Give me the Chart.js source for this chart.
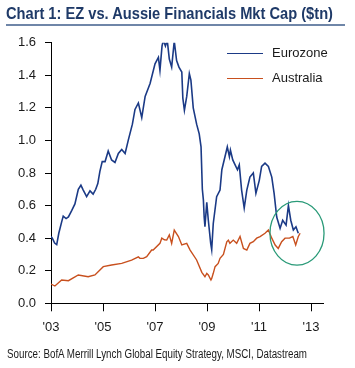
<!DOCTYPE html>
<html>
<head>
<meta charset="utf-8">
<script src="https://cdn.jsdelivr.net/npm/chart.js@4.4.0/dist/chart.umd.min.js"></script>
<style>
  html, body { margin: 0; padding: 0; background: #ffffff; }
  #wrap { position: relative; width: 355px; height: 368px; overflow: hidden; }
  #title { position: absolute; left: 6px; top: 4px; font-family: "Liberation Sans Narrow", "Liberation Sans", Arial, sans-serif; font-weight: bold; font-size: 16.5px; color: #1f3a68; white-space: nowrap; transform-origin: 0 0; }
  #rule { position: absolute; left: 6px; top: 24px; width: 339px; height: 2px; background: #6f86a8; }
  #source { position: absolute; left: 7px; top: 347px; font-family: "Liberation Sans Narrow", "Liberation Sans", Arial, sans-serif; font-size: 12px; color: #1a1a1a; white-space: nowrap; transform-origin: 0 0; }
  #chart { position: absolute; left: 0; top: 0; }
</style>
</head>
<body>
<div id="wrap">
  <canvas id="chart" width="355" height="368"></canvas>
  <div id="title">Chart 1: EZ vs. Aussie Financials Mkt Cap ($tn)</div>
  <div id="rule"></div>
  <div id="source">Source: BofA Merrill Lynch Global Equity Strategy, MSCI, Datastream</div>
</div>
<script>
const seriesNames = ["Eurozone", "Australia"];

const ezYears = [2003.00,2003.05,2003.14,2003.22,2003.30,2003.41,2003.47,2003.58,2003.67,2003.80,2003.92,
  2004.05,2004.15,2004.24,2004.37,2004.50,2004.62,2004.72,2004.80,2004.88,2004.97,
  2005.08,2005.20,2005.33,2005.46,2005.59,2005.72,2005.85,2005.97,
  2006.13,2006.23,2006.36,2006.49,2006.62,2006.81,
  2007.00,2007.13,2007.19,2007.27,2007.32,2007.40,2007.47,2007.55,2007.64,2007.74,2007.83,2007.92,
  2008.03,2008.07,2008.13,2008.22,2008.32,2008.38,2008.47,2008.60,2008.70,2008.77,2008.82,2008.86,2008.89,2008.92,2008.99,
  2009.05,2009.14,2009.18,2009.24,2009.37,2009.50,2009.57,2009.69,2009.78,2009.86,2009.90,2009.99,
  2010.08,2010.17,2010.24,2010.33,2010.43,2010.53,2010.65,2010.78,2010.88,
  2011.01,2011.10,2011.23,2011.36,2011.49,2011.58,2011.68,2011.81,2011.91,
  2012.04,2012.13,2012.22,2012.32,2012.42,2012.51];
const ezValues = [0.41,0.40,0.37,0.36,0.43,0.50,0.535,0.52,0.53,0.57,0.61,
  0.70,0.725,0.695,0.655,0.69,0.67,0.70,0.735,0.81,0.87,
  0.87,0.935,0.88,0.865,0.92,0.945,0.92,1.00,
  1.10,1.19,1.23,1.14,1.27,1.35,
  1.47,1.51,1.43,1.58,1.615,1.58,1.615,1.50,1.45,1.61,1.49,1.45,
  1.42,1.26,1.185,1.27,1.41,1.37,1.20,1.10,1.04,0.96,0.70,0.635,0.53,0.47,0.62,
  0.51,0.37,0.33,0.49,0.655,0.695,0.82,0.90,0.96,0.90,0.94,0.88,
  0.85,0.82,0.85,0.695,0.585,0.695,0.775,0.80,0.675,
  0.755,0.84,0.86,0.84,0.775,0.675,0.53,0.46,0.51,
  0.48,0.60,0.51,0.45,0.47,0.43];

const auYears = [2003.00,2003.15,2003.41,2003.67,2004.05,2004.43,2004.69,2005.01,2005.33,2005.72,
  2006.10,2006.36,2006.42,2006.55,2006.68,2006.87,2006.93,2007.19,2007.26,2007.36,2007.45,2007.55,2007.64,2007.74,2007.90,
  2008.03,2008.22,2008.35,2008.60,2008.80,2008.92,2008.99,2009.05,2009.15,2009.18,2009.24,2009.31,2009.43,2009.50,2009.63,2009.76,2009.82,2009.88,
  2010.01,2010.14,2010.27,2010.40,2010.53,2010.65,2010.78,2010.91,
  2011.04,2011.23,2011.36,2011.49,2011.62,2011.74,2011.87,
  2012.00,2012.17,2012.30,2012.41,2012.51,2012.58];
const auValues = [0.118,0.106,0.143,0.139,0.174,0.163,0.174,0.225,0.235,0.245,
  0.265,0.285,0.276,0.276,0.286,0.327,0.327,0.368,0.40,0.39,0.388,0.42,0.368,0.45,0.41,
  0.358,0.368,0.327,0.266,0.19,0.163,0.184,0.174,0.143,0.153,0.184,0.225,0.245,0.276,0.30,0.378,0.388,0.368,
  0.388,0.368,0.41,0.337,0.327,0.368,0.378,0.40,
  0.41,0.43,0.45,0.40,0.358,0.337,0.378,
  0.40,0.40,0.41,0.358,0.41,0.43];

const xTickYears = [2003, 2005, 2007, 2009, 2011, 2013];
const xTickLabels = ["'03", "'05", "'07", "'09", "'11", "'13"];
const seriesColors = ["#1b3a86", "#c8501e"];

const toPts = (xs, ys) => xs.map((x, i) => ({x: x, y: ys[i]}));

function fitWidth(id, target) {
  const el = document.getElementById(id);
  const w = el.getBoundingClientRect().width;
  if (w > 0) el.style.transform = 'scaleX(' + (target / w) + ')';
}
fitWidth('title', 327);
fitWidth('source', 300);

const legendPlugin = {
  id: 'customLegend',
  afterDraw(chart) {
    const ctx = chart.ctx;
    ctx.save();
    ctx.font = '13px "Liberation Sans", Arial, sans-serif';
    ctx.textBaseline = 'middle';
    const rows = [53.5, 78.5];
    chart.data.datasets.forEach((ds, i) => {
      const y = rows[i];
      ctx.strokeStyle = ds.borderColor;
      ctx.lineWidth = 1.2;
      ctx.beginPath();
      ctx.moveTo(227, y);
      ctx.lineTo(263, y);
      ctx.stroke();
      ctx.fillStyle = '#1a1a1a';
      ctx.fillText(ds.label, 272, y);
    });
    ctx.restore();
  }
};

const circlePlugin = {
  id: 'circleMark',
  afterDatasetsDraw(chart) {
    const xs = chart.scales.x, ys = chart.scales.y;
    const cx = xs.getPixelForValue(2012.46);
    const cy = ys.getPixelForValue(0.43);
    const rx = xs.getPixelForValue(2012.46 + 1.04) - cx;
    const ry = ys.getPixelForValue(0.43) - ys.getPixelForValue(0.43 + 0.196);
    const ctx = chart.ctx;
    ctx.save();
    ctx.strokeStyle = '#2a9a78';
    ctx.lineWidth = 1.3;
    ctx.beginPath();
    ctx.ellipse(cx, cy, rx, ry, 0, 0, Math.PI * 2);
    ctx.stroke();
    ctx.restore();
  }
};

new Chart(document.getElementById('chart'), {
  type: 'line',
  data: {
    datasets: [
      { label: seriesNames[0], data: toPts(ezYears, ezValues), borderColor: seriesColors[0], borderWidth: 1.6, pointRadius: 0, tension: 0, fill: false },
      { label: seriesNames[1], data: toPts(auYears, auValues), borderColor: seriesColors[1], borderWidth: 1.4, pointRadius: 0, tension: 0, fill: false }
    ]
  },
  options: {
    responsive: false,
    animation: false,
    layout: { padding: { left: 0, right: 32, top: 42.7, bottom: 34.7 } },
    plugins: { legend: { display: false }, tooltip: { enabled: false }, title: { display: false } },
    scales: {
      x: {
        type: 'linear',
        min: 2003,
        max: 2013.46,
        afterBuildTicks: (s) => { s.ticks = xTickYears.map(v => ({value: v})); },
        afterFit: (s) => { s.height = 30; },
        ticks: {
          callback: (v) => { const i = xTickYears.indexOf(v); return i >= 0 ? xTickLabels[i] : ''; },
          font: { family: '"Liberation Sans", Arial, sans-serif', size: 13 },
          color: '#1a1a1a',
          padding: 8,
          maxRotation: 0,
          autoSkip: false
        },
        grid: { display: true, drawOnChartArea: false, drawTicks: true, tickLength: 8, color: '#000000', lineWidth: 1 },
        border: { display: true, color: '#000000', width: 1 }
      },
      y: {
        min: 0,
        max: 1.6,
        afterFit: (s) => { s.width = 51; },
        ticks: {
          stepSize: 0.2,
          callback: (v) => Number(v).toFixed(1),
          font: { family: '"Liberation Sans", Arial, sans-serif', size: 13 },
          color: '#1a1a1a',
          padding: 9
        },
        grid: { display: true, drawOnChartArea: false, drawTicks: true, tickLength: 6, color: '#000000', lineWidth: 1 },
        border: { display: true, color: '#000000', width: 1 }
      }
    }
  },
  plugins: [circlePlugin, legendPlugin]
});
</script>
</body>
</html>
